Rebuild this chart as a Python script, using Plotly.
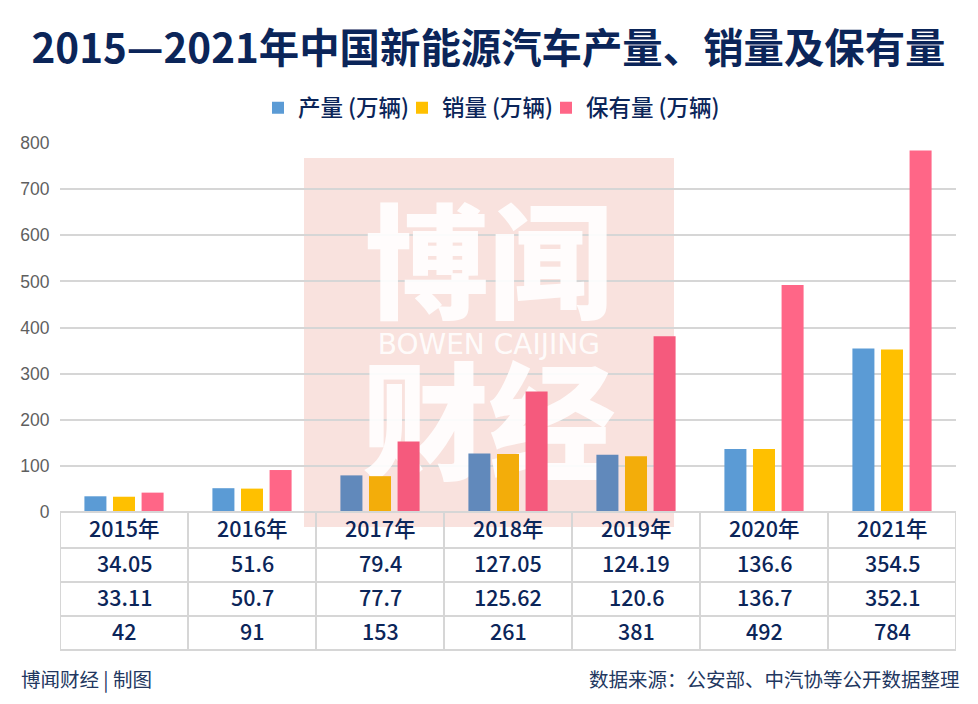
import plotly.graph_objects as go

years = ["2015年", "2016年", "2017年", "2018年", "2019年", "2020年", "2021年"]
production = [34.05, 51.6, 79.4, 127.05, 124.19, 136.6, 354.5]
sales = [33.11, 50.7, 77.7, 125.62, 120.6, 136.7, 352.1]
stock = [42, 91, 153, 261, 381, 492, 784]
names = ["产量 (万辆)", "销量 (万辆)", "保有量 (万辆)"]
title = "2015—2021年中国新能源汽车产量、销量及保有量"
y_ticks = [0, 100, 200, 300, 400, 500, 600, 700, 800]
source = "数据来源：公安部、中汽协等公开数据整理"
credit = "博闻财经 | 制图"

W, H = 978, 704
L, R, T, B = 60, 956, 143, 512
NAVY = "#0b2559"
CJK = "Noto Sans CJK SC"
LINE = "#d6d6d6"
pos = list(range(len(years)))
in_mark = {2, 3, 4}


def shade(base, dark):
    return [dark if i in in_mark else base for i in pos]


def px(pixel):
    return (pixel - L) / (R - L)


def py(pixel):
    return (B - pixel) / (B - T)


fig = go.Figure()

# watermark glyphs sit under the bars
wm_x = [2.85, 2.85, 2.85]
wm_y = [507, 358, 160]
wm_text = ["博闻", "BOWEN CAIJING", "财经"]
wm_size = [124, 28, 127]
wm_family = [CJK, "DejaVu Sans", CJK]
fig.add_trace(go.Scatter(
    x=wm_x, y=wm_y, text=wm_text, mode="text", showlegend=False, hoverinfo="skip",
    cliponaxis=False, zorder=0,
    textfont=dict(family=wm_family, size=wm_size, color="rgba(255,255,255,0.9)", weight=[900, 400, 900]),
))

series = [
    (production, "#5b9bd5", "#6189bb", 99),
    (sales, "#ffc000", "#f3ad0a", 99),
    (stock, "#ff6687", "#f55a7d", 145),
]
for name, (vals, base, dark, entry) in zip(names, series):
    fig.add_trace(go.Bar(
        x=pos, y=vals, name=name, zorder=1, legendwidth=entry,
        marker=dict(color=shade(base, dark), line=dict(width=0)),
    ))

shapes = [dict(type="rect", xref="paper", yref="paper", x0=px(304), x1=px(674),
               y0=py(527), y1=py(158), fillcolor="rgba(225,110,90,0.2)",
               line=dict(width=0), layer="below")]

rows = [years,
        [str(v) for v in production],
        [str(v) for v in sales],
        [str(v) for v in stock]]
row_edges = [512, 548, 582, 616, 650]
for edge in row_edges:
    shapes.append(dict(type="line", xref="x", yref="paper", x0=-0.5, x1=6.5, y0=py(edge), y1=py(edge),
                       line=dict(color=LINE, width=2)))
for i in range(len(years) + 1):
    shapes.append(dict(type="line", xref="x", yref="paper", x0=i - 0.5, x1=i - 0.5,
                       y0=py(row_edges[0]), y1=py(row_edges[-1]), line=dict(color=LINE, width=2)))

annotations = []
for r, row in enumerate(rows):
    mid = (row_edges[r] + row_edges[r + 1]) / 2
    for i, cell in enumerate(row):
        annotations.append(dict(x=i, y=py(mid), xref="x", yref="paper", text=cell, showarrow=False,
                                xanchor="center", yanchor="middle", yshift=3,
                                font=dict(family=CJK, size=21.5, color=NAVY, weight=500)))

annotations.append(dict(x=px(21), y=py(680), xref="paper", yref="paper", yanchor="middle",
                        xanchor="left", text=credit, showarrow=False, xshift=-2, yshift=2,
                        font=dict(family=CJK, size=19.5, color="#22375f")))
annotations.append(dict(x=px(960), y=py(680), xref="paper", yref="paper", yanchor="middle",
                        xanchor="right", text=source, showarrow=False, xshift=2, yshift=2,
                        font=dict(family=CJK, size=19.5, color="#22375f")))

fig.update_layout(
    width=W, height=H, autosize=False,
    margin=dict(l=L, r=W - R, t=T, b=H - B, pad=0),
    paper_bgcolor="white", plot_bgcolor="white",
    barmode="group", bargap=0.33, bargroupgap=0.23,
    title=dict(text=title, x=488.5 / W, xanchor="center", xref="container", y=1 - 49 / H, yanchor="middle",
               yref="container", font=dict(family=CJK, size=40.4, color=NAVY, weight=700)),
    legend=dict(orientation="h", x=px(258), xref="paper", xanchor="left", y=py(108), yref="paper",
                yanchor="middle", font=dict(family=CJK, size=22.5, color=NAVY, weight=500),
                bgcolor="rgba(0,0,0,0)", traceorder="normal"),
    xaxis=dict(range=[-0.5, 6.5], showgrid=False, showticklabels=False, ticks="", zeroline=False,
               fixedrange=True),
    yaxis=dict(range=[0, 800], tickvals=y_ticks, showgrid=True, gridcolor=LINE, gridwidth=2,
               zeroline=False, ticks="outside", ticklen=6, tickcolor="rgba(0,0,0,0)", fixedrange=True,
               tickfont=dict(family="Liberation Sans", size=17.5, color="#5f5f5f")),
    shapes=shapes, annotations=annotations, showlegend=True,
)
fig.write_html("out.html", post_script="document.body.style.margin='0';",
               config=dict(displayModeBar=False))
